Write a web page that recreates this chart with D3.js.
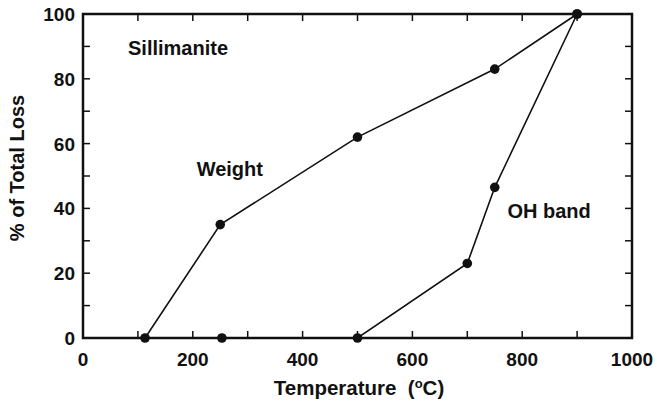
<!DOCTYPE html>
<html><head><meta charset="utf-8">
<script src="https://cdn.jsdelivr.net/npm/d3@7"></script>
<style>body{margin:0;background:#fff}svg text{font-family:"Liberation Sans",Arial,sans-serif;font-weight:bold;fill:#111}</style>
</head><body><svg id="c" width="657" height="401"></svg>
<script>
const weightX = [113, 250, 500, 750, 900];
const weightY = [0, 35, 62, 83, 100];
const ohX = [253, 500, 700, 750, 900];
const ohY = [0, 0, 23, 46.5, 100];
const xTicks = [0, 200, 400, 600, 800, 1000];
const yTicks = [0, 20, 40, 60, 80, 100];
const labels = [{t:"Sillimanite", x:82, y:87.5}, {t:"Weight", x:207, y:50}, {t:"OH band", x:773, y:37}];

const svg = d3.select("#c");
const m = {l:83, r:632, t:14, b:338};
const x = d3.scaleLinear().domain([0,1000]).range([m.l, m.r]);
const y = d3.scaleLinear().domain([0,100]).range([m.b, m.t]);
const tl = 7;
const g = svg.append("g");
const xt = d3.range(0, 1001, 100), yt = d3.range(0, 101, 10);
xt.forEach(v => {
  g.append("line").attr("x1", x(v)).attr("x2", x(v)).attr("y1", m.b).attr("y2", m.b - tl).attr("stroke","#111").attr("stroke-width",1.5);
  g.append("line").attr("x1", x(v)).attr("x2", x(v)).attr("y1", m.t).attr("y2", m.t + tl).attr("stroke","#111").attr("stroke-width",1.5);
});
yt.forEach(v => {
  g.append("line").attr("y1", y(v)).attr("y2", y(v)).attr("x1", m.l).attr("x2", m.l + tl).attr("stroke","#111").attr("stroke-width",1.5);
  g.append("line").attr("y1", y(v)).attr("y2", y(v)).attr("x1", m.r).attr("x2", m.r - tl).attr("stroke","#111").attr("stroke-width",1.5);
});
g.append("rect").attr("x", m.l).attr("y", m.t).attr("width", m.r-m.l).attr("height", m.b-m.t).attr("fill","none").attr("stroke","#111").attr("stroke-width",2.5);
xTicks.forEach(v => g.append("text").attr("x", x(v)).attr("y", m.b + 28).attr("text-anchor","middle").attr("font-size",19).text(v));
yTicks.forEach(v => g.append("text").attr("x", m.l - 8).attr("y", y(v) + 7).attr("text-anchor","end").attr("font-size",19).text(v));
const xt2 = svg.append("text").attr("x", 359).attr("y", 395).attr("text-anchor","middle").attr("font-size",20.5).attr("xml:space","preserve");
xt2.append("tspan").text("Temperature  (");
xt2.append("tspan").attr("font-size",13).attr("dy",-7).text("o");
xt2.append("tspan").attr("dy",7).text("C)");
svg.append("text").attr("transform","translate(24,168) rotate(-90)").attr("text-anchor","middle").attr("font-size",20).text("% of Total Loss");

const line = d3.line().x(d => x(d[0])).y(d => y(d[1]));
[[weightX, weightY], [ohX, ohY]].forEach(([xs, ys]) => {
  const pts = xs.map((v,i) => [v, ys[i]]);
  svg.append("path").attr("d", line(pts)).attr("fill","none").attr("stroke","#111").attr("stroke-width",1.6);
  svg.selectAll(null).data(pts).enter().append("circle").attr("cx", d => x(d[0])).attr("cy", d => y(d[1])).attr("r", 4.8).attr("fill","#111");
});
labels.forEach(l => svg.append("text").attr("x", x(l.x)).attr("y", y(l.y)).attr("font-size",20).text(l.t));
</script></body></html>
